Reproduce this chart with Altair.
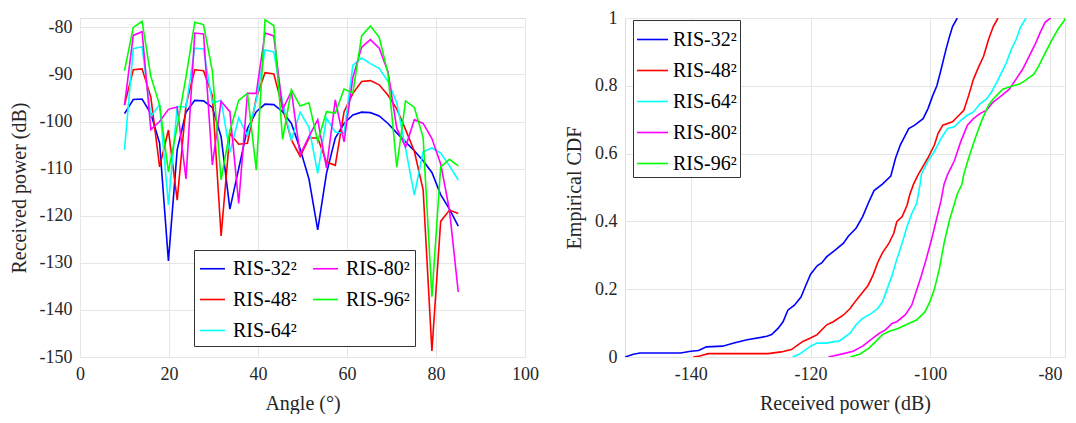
import altair as alt
import pandas as pd

FONT = "Liberation Serif"
TXT = "#262626"

# ---------------- left panel: received power vs angle ----------------
angles = [10.00, 11.97, 13.95, 15.92, 17.89, 19.87, 21.84, 23.82, 25.79, 27.76,
          29.74, 31.71, 33.68, 35.66, 37.63, 39.61, 41.58, 43.55, 45.53, 47.50,
          49.47, 51.45, 53.42, 55.39, 57.37, 59.34, 61.32, 63.29, 65.26, 67.24,
          69.21, 71.18, 73.16, 75.13, 77.11, 79.08, 81.05, 83.03, 85.00]

p32 = [-98.3, -95.3, -95.2, -98.3, -104.6, -129.6, -106.0, -98.0, -95.5, -95.6,
       -97.0, -103.2, -118.6, -110.0, -101.5, -97.9, -96.3, -96.4, -97.9, -100.4,
       -105.8, -112.2, -123.0, -111.0, -103.5, -100.4, -98.6, -98.0, -98.1, -98.8,
       -100.4, -102.4, -104.3, -106.2, -108.3, -110.8, -115.5, -118.6, -122.2]
p48 = [-96.5, -89.0, -88.8, -94.8, -109.6, -101.8, -116.7, -96.5, -89.0, -89.2,
       -94.5, -124.3, -102.5, -104.8, -104.6, -95.0, -89.6, -89.9, -97.0, -103.9,
       -107.4, -103.5, -103.5, -108.6, -109.3, -97.9, -94.0, -91.5, -91.3, -92.2,
       -94.4, -97.3, -101.7, -106.3, -114.5, -148.7, -121.2, -118.8, -119.5]
p64 = [-106.0, -84.5, -84.1, -98.9, -96.4, -117.7, -96.8, -96.9, -84.4, -84.6,
       -96.0, -95.5, -106.6, -99.2, -103.0, -95.5, -84.8, -85.2, -96.0, -103.9,
       -98.0, -101.2, -111.0, -99.3, -102.2, -102.5, -88.0, -86.5, -87.7, -88.7,
       -91.5, -96.0, -105.7, -115.6, -106.4, -105.6, -106.7, -109.4, -112.4]
p80 = [-96.5, -81.7, -80.9, -101.7, -100.0, -97.4, -96.9, -112.2, -81.2, -81.4,
       -109.2, -95.7, -97.9, -117.4, -94.0, -94.0, -81.2, -81.8, -97.4, -93.6,
       -107.0, -103.2, -99.6, -109.9, -95.4, -104.3, -90.6, -84.2, -82.6, -84.4,
       -89.4, -101.4, -105.4, -99.6, -100.4, -103.6, -109.0, -118.8, -136.2]
p96 = [-89.2, -80.0, -78.7, -90.4, -96.5, -110.7, -101.0, -90.5, -78.9, -79.4,
       -89.3, -112.4, -102.0, -95.5, -94.0, -110.3, -78.4, -79.6, -103.8, -93.2,
       -96.7, -96.0, -104.2, -97.9, -98.2, -93.1, -93.9, -81.8, -79.7, -82.1,
       -89.8, -109.7, -95.6, -97.0, -103.4, -137.2, -109.6, -108.0, -109.4]

series_names = ["RIS-32²", "RIS-48²", "RIS-64²", "RIS-80²", "RIS-96²"]
series_colors = ["#0000ff", "#ff0000", "#00ffff", "#ff00ff", "#00ff00"]

# ---------------- right panel: empirical CDFs ----------------
cdf32_x = [-151.0, -149.6, -148.5, -141.7, -140.0, -138.7, -137.4, -134.7, -132.8, -130.6,
           -127.3, -126.5, -125.4, -124.6, -123.8, -122.7, -121.6, -120.8, -120.0, -118.9,
           -118.1, -117.3, -115.9, -114.5, -113.7, -112.4, -111.3, -110.4, -109.4, -108.0,
           -106.6, -105.8, -105.0, -103.6, -102.6, -101.2, -100.4, -99.6, -98.9, -98.2,
           -97.4, -96.8, -96.3, -95.5]
cdf32_f = [0.0, 0.008, 0.012, 0.012, 0.017, 0.019, 0.030, 0.032, 0.041, 0.051,
           0.061, 0.066, 0.085, 0.104, 0.138, 0.153, 0.177, 0.211, 0.244, 0.269,
           0.278, 0.296, 0.315, 0.336, 0.356, 0.380, 0.414, 0.452, 0.491, 0.510,
           0.534, 0.587, 0.626, 0.674, 0.684, 0.703, 0.732, 0.771, 0.800, 0.848,
           0.906, 0.945, 0.974, 1.0]
cdf48_x = [-139.6, -138.5, -137.1, -127.1, -124.9, -123.2, -122.4, -121.3, -120.0, -118.9,
           -117.3, -116.2, -114.5, -113.4, -112.4, -111.3, -110.4, -109.6, -108.8, -108.0,
           -106.9, -106.1, -105.6, -104.7, -103.9, -103.4, -102.8, -102.0, -100.4, -99.3,
           -98.7, -97.9, -96.3, -95.5, -94.4, -93.6, -92.8, -92.0, -91.1, -90.3,
           -89.5, -88.7]
cdf48_f = [0.0, 0.003, 0.010, 0.010, 0.015, 0.022, 0.032, 0.046, 0.056, 0.066,
           0.095, 0.104, 0.124, 0.143, 0.167, 0.191, 0.211, 0.240, 0.278, 0.307,
           0.336, 0.365, 0.399, 0.414, 0.447, 0.481, 0.510, 0.539, 0.587, 0.626,
           0.660, 0.684, 0.694, 0.708, 0.728, 0.771, 0.819, 0.853, 0.887, 0.935,
           0.974, 1.0]
cdf64_x = [-123.0, -121.9, -120.8, -120.0, -118.9, -117.3, -115.9, -115.3, -114.5, -113.4,
           -112.4, -111.3, -109.9, -108.8, -108.0, -107.2, -106.4, -105.6, -104.7, -103.9,
           -103.1, -102.3, -101.7, -101.5, -100.4, -99.3, -98.2, -97.1, -96.0, -94.9,
           -93.8, -92.8, -91.7, -90.6, -89.8, -88.9, -88.1, -87.3, -86.5, -85.7,
           -84.9, -84.0]
cdf64_f = [0.0, 0.008, 0.022, 0.032, 0.041, 0.041, 0.046, 0.046, 0.056, 0.070,
           0.095, 0.114, 0.128, 0.143, 0.162, 0.201, 0.240, 0.288, 0.336, 0.384,
           0.423, 0.452, 0.510, 0.539, 0.578, 0.607, 0.645, 0.674, 0.679, 0.698,
           0.713, 0.723, 0.747, 0.761, 0.781, 0.810, 0.839, 0.868, 0.906, 0.935,
           0.974, 1.0]
cdf80_x = [-117.0, -114.5, -112.9, -111.3, -109.6, -108.5, -107.5, -106.4, -105.6, -104.2,
           -103.1, -102.3, -101.5, -100.7, -99.8, -99.0, -98.2, -97.7, -97.1, -96.0,
           -94.9, -93.8, -92.8, -91.7, -90.6, -89.5, -88.1, -86.8, -85.7, -84.6,
           -83.5, -82.4, -81.6, -80.8, -79.9]
cdf80_f = [0.0, 0.010, 0.017, 0.032, 0.056, 0.070, 0.080, 0.099, 0.104, 0.124,
           0.153, 0.196, 0.240, 0.288, 0.346, 0.404, 0.462, 0.510, 0.539, 0.578,
           0.636, 0.684, 0.703, 0.718, 0.728, 0.752, 0.771, 0.790, 0.819, 0.848,
           0.887, 0.926, 0.959, 0.988, 1.0]
cdf96_x = [-113.4, -111.8, -110.2, -109.1, -108.0, -106.9, -105.3, -103.6, -102.3, -100.9,
           -100.1, -99.3, -98.5, -97.7, -96.8, -96.3, -95.5, -94.7, -94.4, -93.6,
           -92.5, -91.4, -90.3, -89.5, -87.9, -86.2, -85.1, -84.3, -83.5, -82.7,
           -81.9, -80.8, -79.7, -78.6, -77.6, -77.5]
cdf96_f = [0.0, 0.008, 0.027, 0.046, 0.066, 0.075, 0.085, 0.099, 0.109, 0.133,
           0.162, 0.201, 0.259, 0.336, 0.404, 0.433, 0.481, 0.510, 0.539, 0.587,
           0.645, 0.698, 0.742, 0.761, 0.790, 0.800, 0.805, 0.814, 0.824, 0.834,
           0.858, 0.897, 0.935, 0.969, 0.993, 1.0]

# ---------------- tables ----------------
left_rows = []
for name, vals in zip(series_names, [p32, p48, p64, p80, p96]):
    for a, v in zip(angles, vals):
        left_rows.append({"angle": a, "power": v, "series": name})
left_df = pd.DataFrame(left_rows)

right_rows = []
for name, xs, fs in zip(series_names,
                        [cdf32_x, cdf48_x, cdf64_x, cdf80_x, cdf96_x],
                        [cdf32_f, cdf48_f, cdf64_f, cdf80_f, cdf96_f]):
    for i, (xv, fv) in enumerate(zip(xs, fs)):
        right_rows.append({"power": xv, "cdf": fv, "series": name, "idx": i})
right_df = pd.DataFrame(right_rows)


def axis(title, values):
    return alt.Axis(title=title, values=values, grid=True, gridColor="#e6e6e6",
                    domain=False, ticks=False, labelFlush=False, labelOverlap=False,
                    labelExpr="'' + datum.value", labelFont=FONT, labelFontSize=18,
                    labelColor=TXT, labelPadding=8, titleFont=FONT, titleFontSize=20,
                    titleFontWeight="normal", titleColor=TXT, titlePadding=10)


left = alt.Chart(left_df).mark_line(strokeWidth=1.6, clip=True).encode(
    x=alt.X("angle:Q", scale=alt.Scale(domain=[0, 100], nice=False),
            axis=axis("Angle (°)", [0, 20, 40, 60, 80, 100])),
    y=alt.Y("power:Q", scale=alt.Scale(domain=[-150, -78], nice=False, zero=False),
            axis=axis("Received power (dB)", [-150, -140, -130, -120, -110, -100, -90, -80])),
    color=alt.Color("series:N",
                    scale=alt.Scale(domain=series_names, range=series_colors),
                    legend=alt.Legend(title=None, orient="none", legendX=114, legendY=232,
                                      columns=2, symbolType="stroke", symbolSize=625,
                                      symbolStrokeWidth=1.6, labelFont=FONT, labelFontSize=20,
                                      labelColor="#000000", labelOffset=7, padding=5,
                                      rowPadding=7, columnPadding=12,
                                      strokeColor="#333333", fillColor="#ffffff")),
).properties(width=445, height=339)

right = alt.Chart(right_df).mark_line(strokeWidth=1.6, clip=True).encode(
    x=alt.X("power:Q", scale=alt.Scale(domain=[-151, -77.5], nice=False, zero=False),
            axis=axis("Received power (dB)", [-140, -120, -100, -80])),
    y=alt.Y("cdf:Q", scale=alt.Scale(domain=[0, 1], nice=False),
            axis=axis("Empirical CDF", [0, 0.2, 0.4, 0.6, 0.8, 1])),
    color=alt.Color("series:N",
                    scale=alt.Scale(domain=series_names, range=series_colors),
                    legend=alt.Legend(title=None, orient="none", legendX=8, legendY=2,
                                      symbolType="stroke", symbolSize=961,
                                      symbolStrokeWidth=1.6, labelFont=FONT, labelFontSize=20,
                                      labelColor="#000000", labelOffset=4, padding=3,
                                      rowPadding=4,
                                      strokeColor="#333333", fillColor="#ffffff")),
    order=alt.Order("idx:Q"),
).properties(width=440, height=339)

chart = alt.hconcat(left, right, spacing=100, bounds="flush").resolve_scale(
    color="independent"
).properties(padding=0).configure_view(
    stroke="#404040", strokeWidth=1
).configure_axis(
    labelFont=FONT, titleFont=FONT
).configure_legend(
    labelFont=FONT
).configure(font=FONT)

chart.save("out.html", embed_options={"renderer": "svg", "actions": False})
